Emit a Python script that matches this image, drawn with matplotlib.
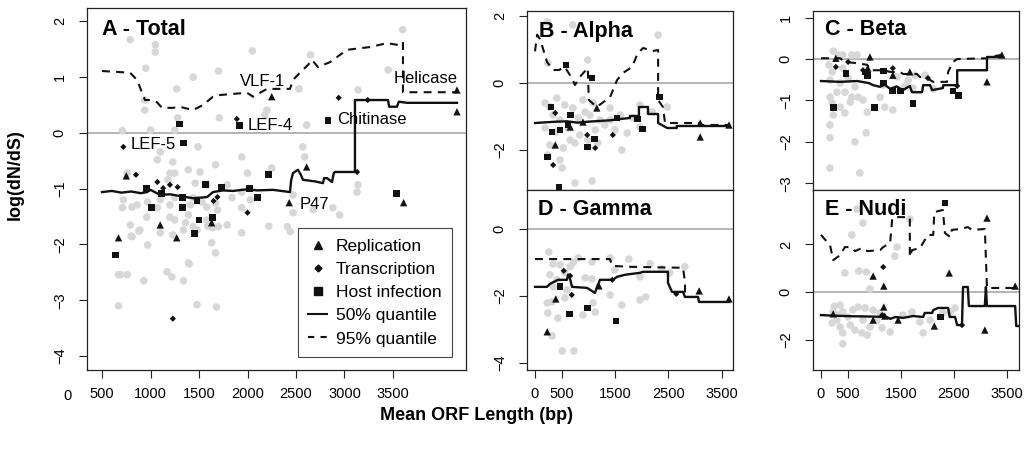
import matplotlib
matplotlib.use("Agg")
import matplotlib.pyplot as plt
from matplotlib.lines import Line2D

plt.rcParams["font.family"] = ["Liberation Sans", "DejaVu Sans"]

# ---------------- A - Total ----------------
a_grey = [
    (3600, 1.85), (790, 1.67), (1050, 1.58), (1050, 1.45), (2050, 1.47), (2650, 1.40), (950, 1.16), (1700, 1.11),
    (1440, 1.00), (3450, 1.13), (1270, 0.79), (2530, 0.79), (3140, 0.77), (940, 0.59), (940, 0.41), (1280, 0.27),
    (1710, 0.27), (2200, 0.41), (2180, 0.32), (2610, 0.14), (710, 0.04), (1000, 0.05), (1250, 0.05), (1490, -0.25),
    (2570, -0.25), (1100, -0.34), (1070, -0.48), (1230, -0.52), (1940, -0.43), (2590, -0.43), (760, -0.72),
    (1200, -0.72), (1250, -0.72), (1390, -0.66), (1510, -0.70), (1670, -0.57), (2000, -0.72), (2250, -0.63),
    (1180, -0.84), (1460, -0.90), (1580, -0.93), (1790, -0.93), (3140, -0.93), (3130, -1.06), (2470, -1.11),
    (720, -1.20), (710, -1.34), (810, -1.33), (860, -1.29), (970, -1.24), (1100, -1.20), (1250, -1.16),
    (1200, -1.29), (1070, -1.34), (1440, -1.16), (1410, -1.29), (1530, -1.24), (1580, -1.33), (1670, -1.25),
    (1690, -1.38), (1840, -1.16), (1940, -1.06), (2030, -1.20), (1940, -1.34), (2470, -1.43), (2880, -1.34),
    (2950, -1.47), (790, -1.65), (960, -1.51), (1200, -1.51), (1250, -1.56), (1390, -1.47), (1360, -1.61),
    (1580, -1.56), (1700, -1.68), (1640, -1.70), (1940, -1.79), (810, -1.86), (890, -1.74), (970, -2.01),
    (1100, -1.79), (1230, -1.83), (1340, -1.74), (1480, -1.74), (1630, -1.97), (1670, -2.15), (1390, -2.33),
    (1170, -2.49), (1220, -2.58), (690, -2.54), (760, -2.54), (800, -1.85), (880, -1.76), (1790, -1.65),
    (2220, -1.67), (2410, -1.68), (2440, -1.77), (1400, -2.35), (930, -2.65), (1340, -2.65), (670, -3.10),
    (1480, -3.08), (1680, -3.12), (1440, -1.68), (1590, -1.67), (2680, -1.38), (670, -2.54),
]
a_rep = [(2250, 0.65), (750, -0.77), (2610, -0.61), (2430, -1.25), (3610, -1.25), (1100, -1.65), (1630, -1.61),
         (1270, -1.88), (670, -1.88), (4160, 0.77), (4160, 0.38)]
a_tra = [(720, -0.25), (1890, 0.25), (2940, 0.63), (3240, 0.59), (3130, -0.70), (850, -0.75), (1070, -0.88),
         (1130, -0.99), (1200, -0.93), (1280, -0.97), (1650, -1.22), (1690, -1.15), (2000, -1.43), (1230, -3.33)]
a_host = [(1300, 0.16), (1920, 0.13), (1340, -0.18), (2830, 0.23), (2220, -0.75), (960, -1.00), (1110, -1.09),
          (1330, -1.16), (1480, -1.22), (1570, -0.93), (1730, -0.97), (2020, -1.00), (2100, -1.16), (1010, -1.34),
          (1330, -1.34), (1500, -1.56), (1640, -1.51), (1450, -1.81), (640, -2.19), (3540, -1.08)]
a_q50 = [(500, -1.06), (600, -1.04), (700, -1.07), (800, -1.05), (900, -1.08), (964, -1.06), (1000, -1.02),
         (1098, -1.11), (1200, -1.10), (1300, -1.13), (1438, -1.17), (1583, -1.15), (1644, -1.06), (1750, -1.03),
         (1850, -1.04), (1995, -1.01), (2100, -1.03), (2263, -1.02), (2438, -1.06), (2450, -0.85), (2469, -0.72),
         (2520, -0.66), (2550, -0.75), (2572, -0.84), (2700, -0.87), (2778, -0.90), (2790, -0.81), (2820, -0.81),
         (2871, -0.88), (2890, -0.72), (2902, -0.70), (3108, -0.70), (3108, 0.59), (3449, 0.59), (3460, 0.47),
         (3541, 0.47), (3560, 0.56), (3645, 0.54), (4160, 0.54)]
a_q95 = [(500, 1.11), (789, 1.08), (861, 0.95), (943, 0.59), (1000, 0.59), (1067, 0.55), (1118, 0.45),
         (1232, 0.45), (1300, 0.47), (1438, 0.41), (1541, 0.50), (1644, 0.65), (1717, 0.68), (1850, 0.70),
         (1995, 0.72), (2057, 0.65), (2201, 0.79), (2438, 0.79), (2469, 0.95), (2541, 1.08), (2624, 1.22),
         (2665, 1.31), (2727, 1.18), (2851, 1.27), (2954, 1.40), (3026, 1.49), (3263, 1.54), (3438, 1.61),
         (3541, 1.58), (3572, 1.63), (3603, 1.63), (3603, 0.73), (4160, 0.73)]
a_notes = [("VLF-1", 1923, 0.84), ("LEF-4", 2005, 0.05), ("LEF-5", 799, -0.29),
           ("Chitinase", 2923, 0.16), ("Helicase", 3511, 0.90), ("P47", 2541, -1.36)]

# ---------------- B - Alpha ----------------
b_grey = [(230, 1.83), (710, 1.74), (2310, 1.44), (990, 0.69), (240, 0.60), (410, -0.45), (190, -0.60),
          (280, -0.72), (560, -0.66), (710, -0.75), (900, -0.51), (1090, -0.60), (1410, -0.75), (1970, -0.66),
          (2480, -0.72), (340, -0.96), (470, -1.11), (810, -1.05), (1030, -0.96), (1220, -1.11), (190, -1.35),
          (380, -1.47), (620, -1.35), (840, -1.56), (1130, -1.41), (1310, -1.26), (1500, -1.41), (1730, -1.50),
          (1970, -1.32), (280, -1.86), (530, -1.95), (750, -1.80), (990, -1.71), (240, -2.16), (470, -2.31),
          (1630, -2.01), (510, -2.55), (750, -3.00), (1070, -2.94), (940, -0.87), (1410, -1.11), (1600, -0.96),
          (1840, -1.05), (2200, -0.87), (660, -1.71), (1180, -1.80)]
b_rep = [(380, -1.86), (660, -1.32), (900, -1.17), (1160, -0.75), (3100, -1.62), (3100, -1.20), (3640, -1.26)]
b_tra = [(380, -0.90), (980, -1.56), (1130, -1.95), (1460, -1.56), (340, -2.46)]
b_host = [(580, 0.54), (1070, 0.15), (300, -0.72), (660, -0.96), (320, -1.47), (470, -1.41), (620, -1.26),
          (1540, -1.05), (1930, -1.08), (2010, -1.38), (1110, -1.68), (990, -1.92), (230, -2.22), (450, -3.12),
          (2330, -0.42)]
b_q50 = [(0, -1.20), (200, -1.18), (400, -1.16), (600, -1.15), (800, -1.19), (1000, -1.16), (1200, -1.14),
         (1400, -1.12), (1600, -1.08), (1780, -1.05), (1780, -0.99), (1950, -0.99), (1950, -0.72), (2120, -0.72),
         (2120, -0.93), (2310, -0.93), (2310, -1.20), (2480, -1.35), (2660, -1.35), (2660, -1.29), (3640, -1.29)]
b_q95 = [(0, 0.95), (40, 1.45), (100, 1.30), (225, 0.63), (340, 0.39), (450, 0.39), (560, 0.48), (690, 0.15),
         (750, -0.06), (840, 0.18), (990, 0.45), (1010, -0.51), (1160, -0.72), (1410, -0.42), (1540, 0.09),
         (1650, 0.30), (1820, 0.48), (1930, 0.90), (2030, 1.05), (2210, 0.96), (2310, 0.99), (2310, -0.51),
         (2400, -0.72), (2440, -1.20), (3100, -1.20), (3100, -1.26), (3640, -1.26)]

# ---------------- C - Beta ----------------
c_grey = [(230, 0.19), (320, 0.10), (410, 0.10), (580, 0.10), (680, 0.10), (150, -0.14), (210, -0.31),
          (410, -0.22), (170, -0.51), (360, -0.58), (510, -0.46), (640, -0.67), (170, -0.92), (300, -0.80),
          (450, -0.80), (580, -0.92), (700, -0.92), (210, -1.06), (360, -1.16), (550, -1.04), (790, -0.99),
          (870, -1.28), (1200, -1.16), (1350, -1.23), (1110, -0.92), (230, -1.35), (450, -1.30), (170, -1.59),
          (170, -1.90), (850, -1.78), (640, -2.00), (170, -2.63), (730, -2.75), (1430, -0.43), (1640, -0.51),
          (1730, -0.70), (1960, -0.39), (2110, -0.72), (1770, -0.39), (1170, -0.63), (1580, -0.65)]
c_rep = [(280, 0.02), (920, 0.05), (880, -0.22), (1350, -0.39), (1670, -0.31), (3120, -0.55), (3400, 0.10)]
c_tra = [(280, -0.19), (510, -0.07), (790, -0.27), (1350, -0.22), (2010, -0.46), (2560, -0.65)]
c_host = [(470, -0.34), (240, -1.16), (1000, -1.16), (1730, -1.08), (1180, -0.29), (1180, -0.58), (1350, -0.77),
          (1490, -0.77), (2480, -0.77), (2580, -0.87), (830, -0.31), (880, -0.39)]
c_q50 = [(0, -0.53), (360, -0.55), (680, -0.53), (900, -0.58), (980, -0.63), (1110, -0.67), (1200, -0.62),
         (1300, -0.72), (1420, -0.66), (1540, -0.75), (1670, -0.65), (1710, -0.80), (1900, -0.80), (1920, -0.63),
         (2050, -0.63), (2090, -0.75), (2290, -0.70), (2300, -0.63), (2560, -0.63), (2560, -0.27), (3120, -0.27),
         (3120, 0.05), (3400, 0.05)]
c_q95 = [(0, 0.02), (360, 0.02), (450, -0.07), (680, -0.10), (870, -0.14), (920, -0.27), (1170, -0.27),
         (1300, -0.31), (1490, -0.31), (1540, -0.36), (1800, -0.36), (1860, -0.43), (1990, -0.46), (2110, -0.55),
         (2370, -0.55), (2390, -0.31), (2480, -0.07), (2560, 0.00), (3120, 0.02), (3140, 0.05), (3400, 0.10)]

# ---------------- D - Gamma ----------------
d_grey = [(260, -0.69), (470, -1.07), (660, -1.13), (280, -1.37), (810, -0.87), (1070, -0.99), (1410, -0.87),
          (1760, -0.90), (2160, -1.04), (2380, -1.19), (2530, -1.31), (2810, -1.13), (1970, -1.43), (1500, -1.22),
          (940, -1.46), (1070, -1.49), (410, -1.52), (600, -1.82), (340, -1.73), (560, -2.06), (230, -2.21),
          (320, -2.18), (1410, -1.97), (1970, -2.12), (2080, -2.03), (1090, -2.21), (900, -2.57), (1130, -2.48),
          (1630, -2.27), (240, -2.51), (430, -2.66), (320, -3.19), (510, -3.64), (730, -3.64), (340, -1.05),
          (720, -1.00), (560, -1.30)]
d_rep = [(230, -3.07), (390, -2.09), (1200, -1.70), (3080, -1.85), (3640, -2.09)]
d_tra = [(540, -1.25), (690, -1.97), (660, -1.40), (1450, -1.52), (2650, -1.94)]
d_host = [(470, -1.73), (640, -2.54), (980, -2.36), (1520, -2.75)]
d_q50 = [(0, -1.73), (225, -1.73), (281, -1.64), (431, -1.52), (600, -1.52), (619, -1.37), (640, -1.37),
         (694, -1.73), (976, -1.76), (1126, -1.91), (1163, -1.73), (1219, -1.52), (1463, -1.52), (1538, -1.43),
         (1688, -1.37), (1970, -1.31), (2026, -1.28), (2495, -1.28), (2495, -1.61), (2570, -1.88), (2777, -1.88),
         (2814, -2.03), (3058, -2.03), (3077, -2.18), (3640, -2.18)]
d_q95 = [(0, -0.90), (1407, -0.90), (1445, -1.10), (1726, -1.13), (2777, -1.16), (2814, -1.58), (2814, -1.88),
         (2908, -1.91)]

# ---------------- E - Nudi ----------------
e_grey = [(680, 3.49), (790, 2.90), (580, 2.40), (1670, 3.07), (1430, 1.89), (1390, 1.51), (450, 0.80),
          (710, 0.88), (850, 0.84), (920, 0.13), (360, -0.55), (230, -0.84), (320, -0.97), (410, -0.84),
          (510, -1.05), (700, -0.63), (830, -0.67), (980, -0.76), (1110, -0.88), (210, -1.30), (360, -1.47),
          (550, -1.39), (640, -1.60), (770, -1.72), (870, -1.81), (410, -1.72), (410, -2.18), (1150, -1.51),
          (1300, -1.68), (1540, -0.97), (1710, -0.84), (1860, -1.26), (1920, -1.72), (2050, -1.18), (2290, -0.88),
          (2430, -0.84), (2520, -0.67), (790, -1.18), (1050, -1.18), (300, -1.18), (920, -1.47), (250, -0.60),
          (600, -0.75)]
e_rep = [(3120, 3.11), (2410, 0.80), (980, 0.67), (1180, 0.25), (3650, 0.25), (1180, -0.63), (230, -0.92),
         (980, -1.18), (1200, -1.01), (1450, -1.18), (2130, -1.43), (3080, -1.60)]
e_tra = [(1170, 1.05), (1150, -0.97), (2650, -1.39)]
e_host = [(2330, 3.74), (2240, -1.05)]
e_q50 = [(0, -0.97), (300, -1.00), (600, -1.02), (900, -1.03), (1240, -1.05), (1300, -1.13), (1400, -1.05),
         (1540, -1.09), (1730, -1.01), (1920, -1.05), (1950, -0.88), (2090, -0.88), (2110, -0.76), (2200, -0.67),
         (2390, -0.67), (2420, -1.05), (2520, -1.05), (2560, -1.39), (2650, -1.39), (2670, 0.21), (2760, 0.21),
         (2780, -0.59), (3080, -0.59), (3100, 0.21), (3120, -0.59), (3650, -0.59), (3670, -1.43), (3720, -1.43)]
e_q95 = [(0, 2.40), (170, 1.97), (230, 1.34), (360, 1.55), (450, 1.89), (550, 1.89), (640, 1.72), (770, 1.85),
         (870, 1.72), (1110, 1.76), (1170, 1.89), (1300, 2.06), (1340, 3.11), (1430, 3.15), (1670, 3.15),
         (1670, 1.47), (1710, 1.76), (1860, 1.85), (2010, 2.40), (2110, 2.40), (2130, 3.36), (2290, 3.45),
         (2330, 2.48), (2430, 2.31), (2460, 2.61), (2610, 2.65), (2760, 2.73), (2840, 2.61), (3080, 2.65),
         (3120, 0.17), (3610, 0.17), (3650, 0.17)]

GREY = "#d7d7d7"
TICK_FS = 10.5


def xy(pairs):
    return [p[0] for p in pairs], [p[1] for p in pairs]


def draw_panel(ax, title, title_pos, grey, rep, tra, host, q50, q95, xlim, ylim, yticks, xticks=None):
    ax.axhline(0, color="#b4b4b4", lw=1.4, zorder=0.5)
    ax.scatter(*xy(grey), s=30, color=GREY, edgecolors="none", zorder=1)
    ax.plot(*xy(q50), color="#111111", lw=1.7, zorder=3)
    ax.plot(*xy(q95), color="#111111", lw=1.5, ls=(0, (3.8, 3)), zorder=3)
    ax.scatter(*xy(rep), marker="^", s=28, color="#111111", edgecolors="none", zorder=4)
    ax.scatter(*xy(tra), marker="D", s=10, color="#111111", edgecolors="none", zorder=4)
    ax.scatter(*xy(host), marker="s", s=24, color="#111111", edgecolors="none", zorder=4)
    ax.set_xlim(*xlim)
    ax.set_ylim(*ylim)
    ax.set_yticks(yticks)
    ax.set_xticks([] if xticks is None else xticks)
    ax.tick_params(axis="both", direction="out", length=5.5, width=0.8, labelsize=TICK_FS, color="#222222")
    ax.tick_params(axis="y", labelrotation=90, pad=9)
    ax.tick_params(axis="x", pad=6.5)
    for lab in ax.get_yticklabels():
        lab.set_va("center")
    for sp in ax.spines.values():
        sp.set_linewidth(0.9)
        sp.set_color("#222222")
    ax.text(title_pos[0], title_pos[1], title, transform=ax.transAxes, fontsize=15.5, fontweight="bold",
            va="baseline", ha="left")


fig = plt.figure(figsize=(10.32, 4.54), dpi=100)
W, H = 1032, 454


def box(l, r, t, b):
    return [l / W, 1 - b / H, (r - l) / W, (b - t) / H]


axA = fig.add_axes(box(87, 466, 8, 370))
axB = fig.add_axes(box(527, 733, 11, 190))
axD = fig.add_axes(box(527, 733, 190, 370))
axC = fig.add_axes(box(813, 1019, 11, 190))
axE = fig.add_axes(box(813, 1019, 190, 370))

ticks_small = [0, 500, 1500, 2500, 3500]
draw_panel(axA, "A - Total", (0.040, 0.925), a_grey, a_rep, a_tra, a_host, a_q50, a_q95, (345, 4253),
           (-4.25, 2.24), [-4, -3, -2, -1, 0, 1, 2], [500, 1000, 1500, 2000, 2500, 3000, 3500])
draw_panel(axB, "B - Alpha", (0.058, 0.855), b_grey, b_rep, b_tra, b_host, b_q50, b_q95, (-150, 3715),
           (-3.21, 2.16), [-2, 0, 2])
draw_panel(axD, "D - Gamma", (0.055, 0.861), d_grey, d_rep, d_tra, d_host, d_q50, d_q95, (-150, 3715),
           (-4.21, 1.16), [-4, -2, 0], ticks_small)
draw_panel(axC, "C - Beta", (0.058, 0.866), c_grey, c_rep, c_tra, c_host, c_q50, c_q95, (-150, 3722),
           (-3.16, 1.16), [-3, -2, -1, 0, 1])
draw_panel(axE, "E - Nudi", (0.058, 0.861), e_grey, e_rep, e_tra, e_host, e_q50, e_q95, (-150, 3722),
           (-3.28, 4.29), [-2, 0, 2], ticks_small)

# gene labels in panel A
for label, x, y in a_notes:
    axA.text(x, y, label, fontsize=12, ha="left", va="baseline", zorder=5)

# stray "0" label left of panel A's axis
axA.text(139, -0.072, "0", transform=axA.get_xaxis_transform(), ha="center", va="center",
         fontsize=TICK_FS, clip_on=False)

handles = [
    Line2D([], [], ls="none", marker="^", color="#111111", ms=6),
    Line2D([], [], ls="none", marker="D", color="#111111", ms=3.5),
    Line2D([], [], ls="none", marker="s", color="#111111", ms=5.5),
    Line2D([], [], color="#111111", lw=1.5),
    Line2D([], [], color="#111111", lw=1.5, ls=(0, (3, 3))),
]
labels = ["Replication", "Transcription", "Host infection", "50% quantile", "95% quantile"]
leg = axA.legend(handles, labels, loc="lower right", bbox_to_anchor=(0.963, 0.036), frameon=True,
                 fancybox=False, edgecolor="#444444", fontsize=12.5, handlelength=1.1, handletextpad=0.5,
                 labelspacing=0.46, borderpad=0.6, borderaxespad=0)
leg.get_frame().set_linewidth(0.8)
leg.get_frame().set_alpha(1)

fig.text(15 / W, 1 - 175 / H, "log(dN/dS)", rotation=90, ha="center", va="center", fontsize=13,
         fontweight="bold")
fig.text(477 / W, 1 - 415 / H, "Mean ORF Length (bp)", ha="center", va="center", fontsize=13,
         fontweight="bold")

fig.savefig("out.png", dpi=100)
